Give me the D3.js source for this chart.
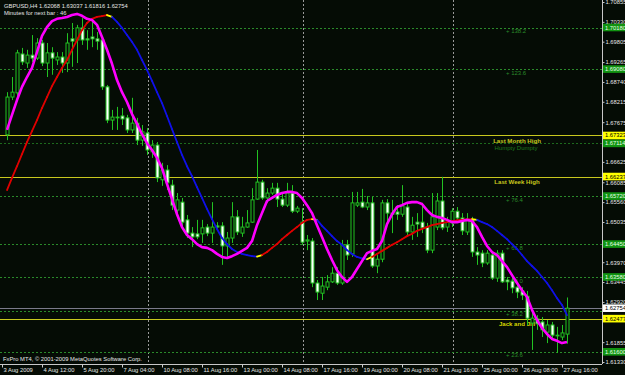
<!DOCTYPE html>
<html>
<head>
<meta charset="utf-8">
<script src="https://cdn.jsdelivr.net/npm/d3@7"></script>
<style>
  html, body { margin: 0; padding: 0; background: #050c05; }
  svg { display: block; }
  text { font-family: "Liberation Sans", Arial, sans-serif; }
</style>
</head>
<body>
<div id="chart"></div>
<script>
// GBPUSD H4, 3 Aug - 27 Aug 2009
const openP = [
  1.6734,1.6834,1.6845,1.6948,1.6924,1.6945,1.6937,1.6977,1.6924,1.6951,
  1.6932,1.6940,1.6924,1.6988,1.6985,1.7017,1.6988,1.6993,1.6988,1.6985,
  1.6861,1.6773,1.6781,1.6784,1.6779,1.6747,1.6765,1.6720,1.6739,1.6689,
  1.6707,1.6615,1.6641,1.6601,1.6535,1.6556,1.6509,1.6474,1.6472,1.6472,
  1.6490,1.6474,1.6493,1.6493,1.6440,1.6461,1.6517,1.6474,1.6490,1.6503,
  1.6564,1.6609,1.6567,1.6580,1.6593,1.6564,1.6548,1.6580,1.6532,1.6503,
  1.6453,1.6453,1.6342,1.6315,1.6331,1.6345,1.6368,1.6342,1.6443,1.6419,
  1.6548,1.6556,1.6543,1.6554,1.6387,1.6405,1.6554,1.6527,1.6530,1.6524,
  1.6543,1.6477,1.6503,1.6503,1.6490,1.6429,1.6490,1.6559,1.6490,1.6501,
  1.6532,1.6514,1.6477,1.6509,1.6424,1.6421,1.6395,1.6416,1.6355,1.6421,
  1.6350,1.6347,1.6331,1.6321,1.6307,1.6236,1.6247,1.6239,1.6212,1.6231,
  1.6204,1.6199,1.62068
];
const highP = [
  1.6847,1.6887,1.6959,1.6964,1.6959,1.6998,1.6990,1.6985,1.6977,1.6966,
  1.6953,1.6953,1.7003,1.7030,1.7025,1.7043,1.7011,1.7043,1.7006,1.6993,
  1.6866,1.6800,1.6808,1.6805,1.6787,1.6832,1.6779,1.6760,1.6752,1.6720,
  1.6715,1.6660,1.6654,1.6615,1.6580,1.6567,1.6522,1.6490,1.6509,1.6509,
  1.6498,1.6556,1.6503,1.6503,1.6477,1.6556,1.6535,1.6517,1.6535,1.6593,
  1.6694,1.6615,1.6593,1.6607,1.6607,1.6580,1.6607,1.6601,1.6546,1.6540,
  1.6469,1.6461,1.6350,1.6358,1.6363,1.6384,1.6384,1.6456,1.6456,1.6583,
  1.6583,1.6591,1.6572,1.6570,1.6416,1.6562,1.6564,1.6562,1.6548,1.6601,
  1.6554,1.6517,1.6527,1.6554,1.6501,1.6580,1.6580,1.6623,1.6517,1.6540,
  1.6543,1.6527,1.6527,1.6517,1.6437,1.6429,1.6429,1.6424,1.6429,1.6429,
  1.6358,1.6358,1.6342,1.6331,1.6321,1.6271,1.6257,1.6252,1.6244,1.6239,
  1.6226,1.6231,1.63037
];
const lowP = [
  1.6720,1.6826,1.6837,1.6919,1.6911,1.6927,1.6932,1.6916,1.6887,1.6893,
  1.6919,1.6898,1.6900,1.6914,1.6924,1.6972,1.6959,1.6966,1.6959,1.6853,
  1.6765,1.6747,1.6747,1.6760,1.6739,1.6739,1.6707,1.6705,1.6681,1.6673,
  1.6609,1.6599,1.6588,1.6535,1.6522,1.6488,1.6461,1.6437,1.6458,1.6448,
  1.6466,1.6448,1.6482,1.6390,1.6411,1.6448,1.6469,1.6464,1.6488,1.6501,
  1.6562,1.6562,1.6554,1.6575,1.6543,1.6543,1.6543,1.6527,1.6527,1.6443,
  1.6429,1.6331,1.6297,1.6297,1.6323,1.6342,1.6337,1.6337,1.6403,1.6411,
  1.6543,1.6540,1.6535,1.6382,1.6368,1.6397,1.6501,1.6474,1.6509,1.6517,
  1.6464,1.6456,1.6464,1.6474,1.6421,1.6421,1.6482,1.6482,1.6477,1.6490,
  1.6501,1.6469,1.6469,1.6411,1.6390,1.6384,1.6390,1.6350,1.6345,1.6342,
  1.6323,1.6315,1.6302,1.6297,1.6231,1.6165,1.6218,1.6199,1.6183,1.6191,
  1.6157,1.6191,1.61816
];
const closeP = [
  1.6834,1.6847,1.6951,1.6927,1.6945,1.6937,1.6977,1.6924,1.6951,1.6937,
  1.6940,1.6924,1.6977,1.6982,1.7017,1.6985,1.6985,1.6988,1.6982,1.6861,
  1.6773,1.6781,1.6779,1.6776,1.6747,1.6765,1.6720,1.6742,1.6694,1.6707,
  1.6620,1.6641,1.6607,1.6548,1.6562,1.6503,1.6474,1.6464,1.6464,1.6488,
  1.6474,1.6490,1.6490,1.6440,1.6461,1.6517,1.6477,1.6490,1.6501,1.6562,
  1.6609,1.6567,1.6580,1.6593,1.6564,1.6548,1.6580,1.6532,1.6540,1.6450,
  1.6456,1.6342,1.6318,1.6334,1.6345,1.6368,1.6342,1.6443,1.6416,1.6554,
  1.6554,1.6543,1.6554,1.6387,1.6405,1.6554,1.6527,1.6524,1.6524,1.6546,
  1.6477,1.6495,1.6498,1.6488,1.6429,1.6517,1.6559,1.6488,1.6503,1.6532,
  1.6514,1.6480,1.6509,1.6424,1.6416,1.6395,1.6421,1.6355,1.6421,1.6345,
  1.6345,1.6329,1.6318,1.6310,1.6249,1.6249,1.6234,1.6218,1.6231,1.6204,
  1.6202,1.6210,1.62754
];

// magenta fast average
const fastMA = [
  1.6747,1.6787,1.6826,1.6861,1.6887,1.6911,1.6953,1.6996,1.7019,1.7035,
  1.7041,1.7043,1.7046,1.7051,1.7054,1.7049,1.7041,1.7038,1.7025,1.6993,
  1.6959,1.6922,1.6879,1.6847,1.6821,1.6789,1.6763,1.6736,1.6712,1.6694,
  1.6673,1.6646,1.6604,1.6564,1.6524,1.6490,1.6469,1.6458,1.6445,1.6437,
  1.6435,1.6429,1.6419,1.6411,1.6408,1.6413,1.6419,1.6427,1.6435,1.6453,
  1.6495,1.6527,1.6559,1.6567,1.6575,1.6580,1.6583,1.6583,1.6580,1.6567,
  1.6548,1.6527,1.6495,1.6464,1.6432,1.6403,1.6376,1.6358,1.6345,1.6358,
  1.6379,1.6400,1.6421,1.6427,1.6432,1.6453,1.6498,1.6524,1.6543,1.6548,
  1.6554,1.6556,1.6556,1.6551,1.6535,1.6522,1.6517,1.6514,1.6509,1.6503,
  1.6503,1.6506,1.6509,1.6506,1.6490,1.6464,1.6440,1.6424,1.6416,1.6400,
  1.6384,1.6363,1.6342,1.6323,1.6305,1.6271,1.6244,1.6223,1.6207,1.6194,
  1.6189,1.6183,1.6186
];
// slow average, drawn red when rising, blue when falling, yellow on a turn
const slowMA = [
  1.6588,1.6620,1.6651,1.6683,1.6715,1.6744,1.6773,1.6805,1.6834,1.6863,
  1.6887,1.6911,1.6932,1.6959,1.6985,1.7011,1.7030,1.7041,1.7046,1.7048,
  1.7051,1.7046,1.7033,1.7017,1.6998,1.6980,1.6959,1.6932,1.6906,1.6877,
  1.6847,1.6818,1.6784,1.6749,1.6715,1.6681,1.6651,1.6625,1.6596,1.6567,
  1.6538,1.6511,1.6485,1.6461,1.6445,1.6432,1.6424,1.6419,1.6416,1.6413,
  1.6412,1.6416,1.6424,1.6435,1.6445,1.6458,1.6469,1.6480,1.6490,1.6501,
  1.6509,1.6511,1.6509,1.6493,1.6480,1.6466,1.6453,1.6443,1.6429,1.6419,
  1.6411,1.6407,1.6405,1.6411,1.6419,1.6427,1.6435,1.6443,1.6450,1.6458,
  1.6466,1.6472,1.6480,1.6485,1.6490,1.6495,1.6498,1.6501,1.6503,1.6506,
  1.6508,1.6509,1.6510,1.6511,1.6509,1.6503,1.6498,1.6490,1.6480,1.6469,
  1.6458,1.6445,1.6432,1.6416,1.6400,1.6387,1.6374,1.6358,1.6342,1.6323,
  1.6302,1.6284,1.6257
];

const timeLabels = ["3 Aug 2009", "4 Aug 12:00", "5 Aug 20:00", "7 Aug 04:00",
  "10 Aug 08:00", "11 Aug 16:00", "13 Aug 00:00", "14 Aug 08:00", "17 Aug 16:00",
  "19 Aug 00:00", "20 Aug 08:00", "21 Aug 16:00", "25 Aug 00:00", "26 Aug 08:00",
  "27 Aug 16:00"];
const priceTicks = [1.70855, 1.70330, 1.69805, 1.69265, 1.68740, 1.68215, 1.67675,
  1.67150, 1.66625, 1.66085, 1.65560, 1.65035, 1.64495, 1.63970, 1.63445, 1.62920,
  1.62380, 1.61855, 1.61330];
const separatorBars = [28, 59, 89];

// fibonacci levels and horizontal lines
const fibPrices = [1.70180, 1.69080, 1.65720, 1.64450, 1.63580, 1.62690, 1.61600];
const fibNames = ["138.2", "123.6", "76.4", "61.8", "50.0", "38.2", "23.6"];
const greenLinePrices = [1.70180, 1.69080, 1.67114, 1.65720, 1.64450, 1.63580, 1.61600];
const yellowLinePrices = [1.67323, 1.66237, 1.62477];
const yellowLineNames = ["Last Month High", "Last Week High", "Jack and Jill"];
const humptyPrice = 1.67114;
const symbolText = "GBPUSD,H4  1.62068 1.63037 1.61816 1.62754";
const bidPrice = 1.62754;

// Layout
const W = 625, H = 375;
const plotRight = 602, plotBottom = 364;
const COL = {
    bg: '#050c05',
    bar: '#22c322',
    bull: '#050c05',
    bear: '#ffffff',
    axis: '#c8c8c8',
    text: '#e6e6e6',
    fib: '#2a8a2a',
    yellow: '#c8c81e',
    box: '#119411',
    sep: '#9a9a9a',
    fast: '#ff00ff',
    up: '#e00000',
    down: '#1010e8',
    turn: '#ffff00'
};

const svg = d3.select('#chart').append('svg')
    .attr('width', W).attr('height', H);

svg.append('rect').attr('width', W).attr('height', H).attr('fill', COL.bg);

const n = closeP.length;
const x = d3.scaleLinear().domain([0, n - 1]).range([7, 567]);
const y = d3.scaleLinear().domain([1.61330, 1.70855]).range([362, 2]);
const cx = i => Math.round(x(i)) + 0.5;

// Period separators
svg.append('g').selectAll('line')
    .data(separatorBars)
    .join('line')
    .attr('x1', d => cx(d) + 1).attr('x2', d => cx(d) + 1)
    .attr('y1', 0).attr('y2', plotBottom)
    .attr('stroke', COL.sep)
    .attr('stroke-dasharray', '2,2');

// Horizontal objects
const objects = svg.append('g');
objects.selectAll('line.green')
    .data(greenLinePrices.concat([fibPrices[5]]))
    .join('line')
    .attr('class', 'green')
    .attr('x1', 0).attr('x2', plotRight)
    .attr('y1', d => Math.round(y(d)) + 0.5).attr('y2', d => Math.round(y(d)) + 0.5)
    .attr('stroke', d => d === humptyPrice ? '#1d6a1d' : COL.fib)
    .attr('stroke-dasharray', '2,2');

// bid line
objects.append('line')
    .attr('x1', 0).attr('x2', plotRight)
    .attr('y1', Math.round(y(bidPrice)) + 0.5).attr('y2', Math.round(y(bidPrice)) + 0.5)
    .attr('stroke', '#7a7a8a');

objects.selectAll('line.yellow')
    .data(yellowLinePrices)
    .join('line')
    .attr('class', 'yellow')
    .attr('x1', 0).attr('x2', plotRight)
    .attr('y1', d => Math.round(y(d)) + 0.5).attr('y2', d => Math.round(y(d)) + 0.5)
    .attr('stroke', COL.yellow);

objects.selectAll('text.fib')
    .data(fibPrices)
    .join('text')
    .attr('class', 'fib')
    .attr('x', 506)
    .attr('y', d => y(d) + 3.6)
    .attr('dominant-baseline', 'central')
    .style('font-size', '6px')
    .attr('fill', COL.fib)
    .text((d, i) => '+ ' + fibNames[i]);

objects.selectAll('text.yl')
    .data(yellowLinePrices)
    .join('text')
    .attr('class', 'yl')
    .attr('x', 517)
    .attr('y', d => y(d) + 4.6)
    .attr('text-anchor', 'middle')
    .attr('dominant-baseline', 'central')
    .style('font-size', '6.1px')
    .style('font-weight', 'bold')
    .attr('fill', (d, i) => i === 2 ? '#d6d600' : COL.yellow)
    .text((d, i) => yellowLineNames[i]);

objects.append('text')
    .attr('x', 516)
    .attr('y', y(humptyPrice) + 4.8)
    .attr('text-anchor', 'middle')
    .attr('dominant-baseline', 'central')
    .style('font-size', '6px')
    .attr('fill', '#1f7a1f')
    .text('Humpty Dumpty');

// Candles
const candles = svg.append('g');
const idx = d3.range(n);
candles.selectAll('line')
    .data(idx)
    .join('line')
    .attr('x1', cx).attr('x2', cx)
    .attr('y1', i => y(highP[i])).attr('y2', i => y(lowP[i]))
    .attr('stroke', COL.bar);

candles.selectAll('rect')
    .data(idx)
    .join('rect')
    .attr('x', i => cx(i) - 1.5)
    .attr('width', 3)
    .attr('y', i => y(Math.max(openP[i], closeP[i])))
    .attr('height', i => Math.max(0.6, Math.abs(y(openP[i]) - y(closeP[i]))))
    .attr('fill', i => closeP[i] >= openP[i] ? COL.bull : COL.bear)
    .attr('stroke', COL.bar)
    .attr('stroke-width', 1);

// Slow average, segment by segment
const dir = i => Math.sign(slowMA[i + 1] - slowMA[i]);
svg.append('g').selectAll('line')
    .data(d3.range(n - 1))
    .join('line')
    .attr('x1', i => x(i)).attr('y1', i => y(slowMA[i]))
    .attr('x2', i => x(i + 1)).attr('y2', i => y(slowMA[i + 1]))
    .attr('stroke', i => {
        if (i > 0 && dir(i) !== dir(i - 1)) return COL.turn;
        return dir(i) > 0 ? COL.up : COL.down;
    })
    .attr('stroke-width', 1.8)
    .attr('stroke-linecap', 'round');

// Fast average
svg.append('path')
    .datum(fastMA)
    .attr('fill', 'none')
    .attr('stroke', COL.fast)
    .attr('stroke-width', 2.6)
    .attr('stroke-linejoin', 'round')
    .attr('d', d3.line().x((d, i) => x(i)).y(d => y(d)));

// Axes frame
svg.append('line')
    .attr('x1', plotRight + 0.5).attr('x2', plotRight + 0.5)
    .attr('y1', 0).attr('y2', plotBottom)
    .attr('stroke', COL.axis);
svg.append('line')
    .attr('x1', 0).attr('x2', plotRight)
    .attr('y1', plotBottom + 0.5).attr('y2', plotBottom + 0.5)
    .attr('stroke', COL.axis);

// Price boxes on the axis
const boxes = greenLinePrices.map(p => ({ p, fill: COL.box, color: '#e8ffe8' }))
    .concat(yellowLinePrices.map(p => ({ p, fill: '#ffff00', color: '#000' })))
    .concat([{ p: bidPrice, fill: '#ffffff', color: '#000' }]);

// a tick label that sits under a price box is hidden by it, as in the terminal
const shownTicks = priceTicks.filter(t =>
    boxes.every(b => Math.abs(y(b.p) - y(t)) >= 5));

const yAxis = svg.append('g')
    .attr('transform', `translate(${plotRight + 0.5},0)`)
    .call(d3.axisRight(y).tickValues(shownTicks)
        .tickFormat(d3.format('.5f')).tickSize(2).tickPadding(1).tickSizeOuter(0));
yAxis.select('.domain').remove();
yAxis.selectAll('line').attr('stroke', COL.axis);
yAxis.selectAll('text')
    .attr('fill', COL.text)
    .style('font-size', '5.8px')
    .style('font-family', '"Liberation Sans", Arial, sans-serif');

const timeTicks = timeLabels.map((d, k) => k * 8);
const xAxis = svg.append('g')
    .attr('transform', `translate(0,${plotBottom + 0.5})`)
    .call(d3.axisBottom(x).tickValues(timeTicks)
        .tickFormat((d, k) => timeLabels[k]).tickSize(3).tickPadding(1).tickSizeOuter(0));
xAxis.select('.domain').remove();
xAxis.selectAll('line').attr('stroke', COL.axis).attr('transform', 'translate(-5,0)');
xAxis.selectAll('text')
    .attr('fill', COL.text)
    .attr('text-anchor', 'start')
    .attr('x', -4)
    .attr('y', 3)
    .style('font-size', '5.8px')
    .style('font-family', '"Liberation Sans", Arial, sans-serif');

const boxG = svg.append('g').selectAll('g')
    .data(boxes)
    .join('g')
    .attr('transform', d => `translate(${plotRight + 1},${y(d.p)})`);
boxG.append('rect')
    .attr('x', 0).attr('y', -3.8)
    .attr('width', 22).attr('height', 7.6)
    .attr('fill', d => d.fill);
boxG.append('text')
    .attr('x', 2).attr('y', 0)
    .attr('dominant-baseline', 'central')
    .style('font-size', '5.8px')
    .attr('fill', d => d.color)
    .text(d => d3.format('.5f')(d.p));

// Header and footer
const info = svg.append('g').style('font-size', '5.8px').attr('fill', COL.text);
info.append('text').attr('x', 4).attr('y', 8).text(symbolText);
info.append('text').attr('x', 4).attr('y', 15).text('Minutes for next bar : 46');
info.append('text').attr('x', 3).attr('y', 361)
    .text('FxPro MT4, \u00a9 2001-2009 MetaQuotes Software Corp.');
</script>
</body>
</html>
